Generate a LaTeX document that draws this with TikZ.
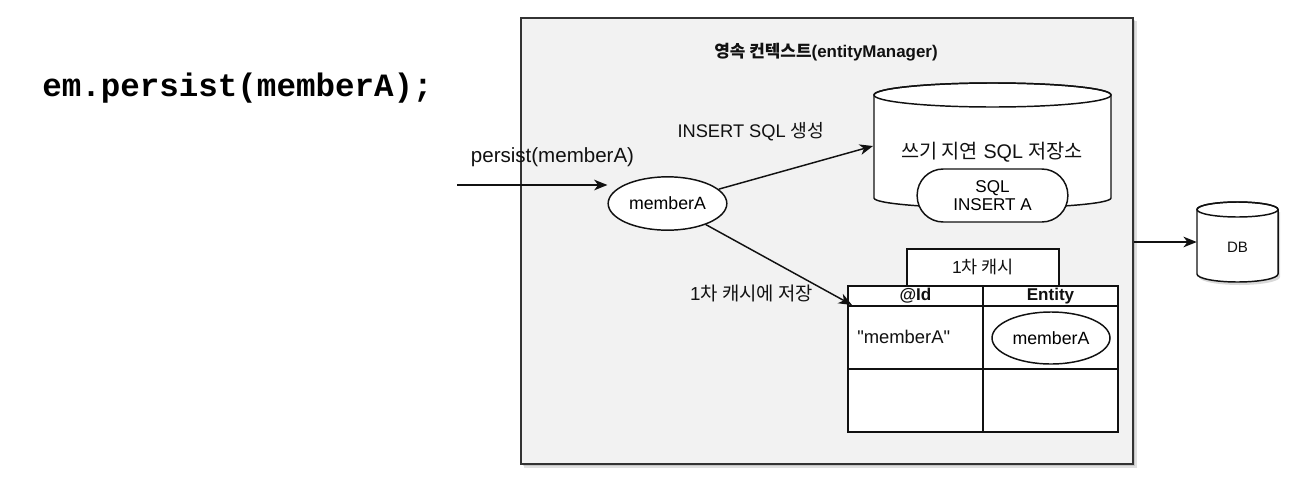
\documentclass[tikz,border=0pt]{standalone}
\usepackage{fontspec}
\setmainfont{Liberation Sans}
\newfontfamily\kr{Noto Sans CJK KR}
\newfontfamily\mono{Liberation Mono}
\newfontfamily\plainsans{Liberation Sans}
\usetikzlibrary{arrows.meta}
\usetikzlibrary{shapes.geometric}
\definecolor{ctxfill}{HTML}{F2F2F2}
\definecolor{ctxline}{HTML}{333333}
\definecolor{ink}{HTML}{111111}
\tikzset{
  conn/.style={draw=ink, line width=1.1pt, -{Stealth[length=10pt,width=8pt,inset=3pt]}},
  shp/.style={draw=ink, line width=1.1pt},
  lbl/.style={inner sep=0pt, text=ink, font=\fontsize{13}{15}\selectfont},
  ctxbox/.style={draw=ctxline, fill=ctxfill, line width=1.6pt, minimum width=459pt, minimum height=334.5pt, inner sep=0pt},
  ovalnode/.style={shp, fill=white, ellipse, minimum width=89pt, minimum height=40pt, inner sep=0pt, font=\fontsize{13.3}{15}\selectfont},
  ghost/.style={draw=none, inner sep=0pt},
}
\begin{document}
\begin{tikzpicture}[x=0.75pt,y=-0.75pt]
\useasboundingbox (0,0) rectangle (1299,482);
% code text
\node[inner sep=0pt, text=black, font=\mono\bfseries\fontsize{24.4}{28}\selectfont] (code) at (237.5,88) {em.persist(memberA);};
% context box with shadow
\fill[black, opacity=0.12] (524,21) rectangle (1137,468);
\fill[black, opacity=0.12] (523,20) rectangle (1135,466);
\node[ctxbox] (ctx) at (827,241) {};
\node[lbl, font=\bfseries\fontsize{12.7}{15}\selectfont] (title) at (826,52) {{\kr 영속 컨텍스트}(entityManager)};
% write-behind SQL store cylinder
\filldraw[shp, fill=white] (874,95) -- (874,198) arc[start angle=180, end angle=0, x radius=118.5, y radius=10] -- (1111,95) arc[start angle=0, end angle=-180, x radius=118.5, y radius=12] -- cycle;
\draw[shp] (992.5,95) ellipse [x radius=118.5, y radius=12];
\node[ghost, minimum width=177.75pt, minimum height=93pt] (store) at (992.5,145) {};
\node[lbl, font=\fontsize{14.8}{17}\selectfont] (storelbl) at (992,152) {{\kr 쓰기 지연} SQL {\kr 저장소}};
\node[shp, fill=white, rounded corners=19.5pt, minimum width=113pt, minimum height=39.75pt, inner sep=0pt, align=center, font=\fontsize{12.8}{15}\selectfont] (sqlA) at (992.5,195.5) {SQL\\[-1pt]INSERT A};
% memberA
\node[ovalnode] (memA) at (667.5,203.5) {memberA};
\coordinate (pin) at (457,185);
\draw[conn] (pin) -- (memA.west |- pin);
\node[lbl, font=\fontsize{15.4}{18}\selectfont] (persistlbl) at (552.5,157) {persist(memberA)};
\coordinate (sqlin) at (873,146);
\draw[conn] (memA) -- (sqlin);
\node[lbl, font=\fontsize{13.7}{16}\selectfont] (insertlbl) at (751,132) {INSERT SQL {\kr 생성}};
% cache table
\node[shp, fill=white, minimum width=114pt, minimum height=27.75pt, inner sep=0pt] (tab) at (983,267.5) {};
\node[lbl, font=\fontsize{13.1}{15}\selectfont] (tablbl) at (983,267) {1{\kr 차 캐시}};
\node[shp, fill=white, minimum width=202.5pt, minimum height=109.5pt, inner sep=0pt] (cache) at (983,359) {};
\draw[shp] (848,306) -- (1118,306);
\draw[shp] (848,369) -- (1118,369);
\draw[shp] (983,286) -- (983,432);
\node[lbl, font=\bfseries\fontsize{12.8}{15}\selectfont] (idh) at (915.5,296) {@Id};
\node[lbl, font=\bfseries\fontsize{12.8}{15}\selectfont] (enth) at (1050.5,296) {Entity};
\node[lbl, anchor=west, font=\plainsans\fontsize{13.8}{16}\selectfont] (idval) at (857,337) {"memberA"};
\node[ovalnode, minimum width=88.5pt, minimum height=39pt] (memB) at (1051,338) {memberA};
\coordinate (cachein) at (852,305);
\draw[conn] (memA) -- (cachein);
\node[lbl, font=\fontsize{14.1}{16}\selectfont] (cachelbl) at (751.5,293) {1{\kr 차 캐시에 저장}};
% DB
\fill[black, opacity=0.15] (1199,212) -- (1199,277) arc[start angle=180, end angle=0, x radius=40.5, y radius=8] -- (1280,212) -- cycle;
\filldraw[shp, fill=white] (1197,209.5) -- (1197,274) arc[start angle=180, end angle=0, x radius=40.5, y radius=8] -- (1278,209.5) arc[start angle=0, end angle=-180, x radius=40.5, y radius=7.5] -- cycle;
\draw[shp] (1237.5,209.5) ellipse [x radius=40.5, y radius=7.5];
\node[ghost, minimum width=60.75pt, minimum height=60pt] (db) at (1237.5,242) {};
\node[lbl, font=\fontsize{11.3}{13}\selectfont] (dblbl) at (1237.5,247) {DB};
\draw[conn] (ctx.east |- db.west) -- (db.west);
\end{tikzpicture}
\end{document}
